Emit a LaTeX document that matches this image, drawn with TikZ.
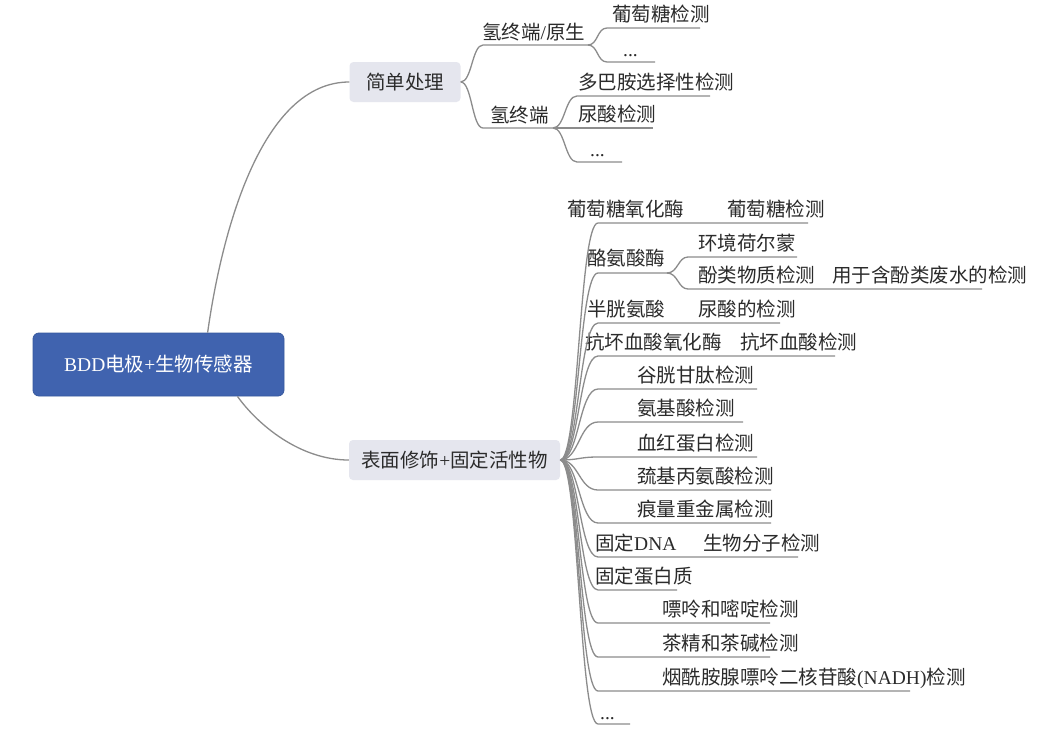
\documentclass[tikz,border=0pt]{standalone}
\usepackage{fontspec}
\setmainfont{Liberation Serif}
\newfontfamily\cjk{Noto Sans CJK SC}
\definecolor{rootc}{HTML}{4063AF}
\definecolor{rootb}{HTML}{37589E}
\definecolor{boxc}{HTML}{E5E6EE}
\definecolor{linec}{HTML}{8C8C8C}
\definecolor{txtc}{HTML}{2B2B2B}
\newcommand\lat[1]{{\rmfamily #1}}
\begin{document}
\begin{tikzpicture}[x=1pt,y=-1pt,
  conn/.style={draw=linec,line width=1.3pt},
  txt/.style={inner sep=0pt,anchor=base west,text=txtc,font=\fontsize{19.5}{22}\selectfont\cjk},
  topic/.style={rounded corners=4pt,fill=boxc,minimum height=40pt,inner sep=0pt,text=txtc,font=\fontsize{19.5}{22}\selectfont\cjk},
  rootbox/.style={rounded corners=6pt,fill=rootc,draw=rootb,line width=0.8pt,minimum width=251pt,minimum height=63pt,inner sep=0pt,text=white,font=\fontsize{19.5}{22}\selectfont\cjk}]
\useasboundingbox (0,0) rectangle (1050,736);
\fill[white] (0,0) rectangle (1050,736);

% root and main topics
\node[rootbox] (r) at (158.5,364.5) {\lat{BDD}电极\lat{+}生物传感器};
\node[topic,minimum width=111pt] (b1) at (405,82) {简单处理};
\node[topic,minimum width=211pt] (b2) at (454.5,460) {表面修饰\lat{+}固定活性物};

\draw[conn] (r.33) .. controls (222,230) and (262,82) .. (b1.west);
\draw[conn] (r.-22) .. controls (258,425) and (300,460) .. (b2.west);

% ---------- branch 1 ----------
\node[txt] (h1) at (482,39) {氢终端\lat{/}原生};
\node[txt] (h2) at (490,122.5) {氢终端};
\node[txt] (g1) at (612,21.5) {葡萄糖检测};
\node[txt] (d1) at (623,56) {\lat{...}};
\node[txt] (m1) at (578,89.5) {多巴胺选择性检测};
\node[txt] (u1) at (578,121.5) {尿酸检测};
\node[txt] (d2) at (590,156) {\lat{...}};

\coordinate (h1s) at (483,45);  \coordinate (h1e) at (588,45);
\coordinate (h2s) at (483,128); \coordinate (h2e) at (553,128);
\coordinate (g1s) at (607,28);  \coordinate (g1e) at (700,28);
\coordinate (d1s) at (607,62);  \coordinate (d1e) at (655,62);
\coordinate (m1s) at (577,96);  \coordinate (m1e) at (710,96);
\coordinate (u1e) at (653,128);
\coordinate (d2s) at (577,162); \coordinate (d2e) at (622,162);

\draw[conn] (b1.east) .. controls (472,82) and (472,45) .. (h1s) -- (h1e);
\draw[conn] (b1.east) .. controls (472,82) and (472,128) .. (h2s) -- (h2e);
\draw[conn] (h1e) .. controls (598,45) and (597,28) .. (g1s) -- (g1e);
\draw[conn] (h1e) .. controls (598,45) and (597,62) .. (d1s) -- (d1e);
\draw[conn] (h2e) .. controls (565,128) and (565,96) .. (m1s) -- (m1e);
\draw[conn] (h2e) -- (u1e);
\draw[conn] (h2e) .. controls (565,128) and (565,162) .. (d2s) -- (d2e);

% ---------- branch 2 ----------
\node[txt] (a1) at (567,216.5) {葡萄糖氧化酶};
\node[txt] (a1b) at (727,216.5) {葡萄糖检测};
\node[txt] (a2) at (587,265) {酪氨酸酶};
\node[txt] (a2x) at (698,250.5) {环境荷尔蒙};
\node[txt] (a2y) at (698,282.5) {酚类物质检测};
\node[txt] (a2z) at (832,282.5) {用于含酚类废水的检测};
\node[txt] (a3) at (587,316.5) {半胱氨酸};
\node[txt] (a3b) at (698,316.5) {尿酸的检测};
\node[txt] (a4) at (585,349.5) {抗坏血酸氧化酶};
\node[txt] (a4b) at (740,349.5) {抗坏血酸检测};
\node[txt] (a5) at (637,382.5) {谷胱甘肽检测};
\node[txt] (a6) at (637,415.5) {氨基酸检测};
\node[txt] (a7) at (637,450.5) {血红蛋白检测};
\node[txt] (a8) at (637,483.5) {巯基丙氨酸检测};
\node[txt] (a9) at (637,516.5) {痕量重金属检测};
\node[txt] (a10) at (595,550.5) {固定\lat{DNA}};
\node[txt] (a10b) at (703,550.5) {生物分子检测};
\node[txt] (a11) at (595,583.5) {固定蛋白质};
\node[txt] (a12) at (662,616.5) {嘌呤和嘧啶检测};
\node[txt] (a13) at (662,650.5) {茶精和茶碱检测};
\node[txt] (a14) at (662,684.5) {烟酰胺腺嘌呤二核苷酸\lat{(NADH)}检测};
\node[txt] (a15) at (600,719) {\lat{...}};

\coordinate (a1s) at (598,223);  \coordinate (a1e) at (808,223);
\coordinate (a2s) at (598,273);  \coordinate (a2e) at (667,273);
\coordinate (a2xs) at (688,257); \coordinate (a2xe) at (797,257);
\coordinate (a2ys) at (688,289); \coordinate (a2ye) at (982,289);
\coordinate (a3s) at (598,323);  \coordinate (a3e) at (780,323);
\coordinate (a4s) at (598,356);  \coordinate (a4e) at (835,356);
\coordinate (a5s) at (598,389);  \coordinate (a5e) at (757,389);
\coordinate (a6s) at (598,422);  \coordinate (a6e) at (743,422);
\coordinate (a7s) at (598,457);  \coordinate (a7e) at (757,457);
\coordinate (a8s) at (598,490);  \coordinate (a8e) at (771,490);
\coordinate (a9s) at (598,523);  \coordinate (a9e) at (771,523);
\coordinate (a10s) at (598,557); \coordinate (a10e) at (798,557);
\coordinate (a11s) at (598,590); \coordinate (a11e) at (677,590);
\coordinate (a12s) at (598,623); \coordinate (a12e) at (770,623);
\coordinate (a13s) at (598,657); \coordinate (a13e) at (770,657);
\coordinate (a14s) at (598,691); \coordinate (a14e) at (910,691);
\coordinate (a15s) at (598,724); \coordinate (a15e) at (630,724);

\draw[conn] (b2.east) .. controls (579,460) and (579,223) .. (a1s) -- (a1e);
\draw[conn] (b2.east) .. controls (579,460) and (579,273) .. (a2s) -- (a2e);
\draw[conn] (a2e) .. controls (678,273) and (678,257) .. (a2xs) -- (a2xe);
\draw[conn] (a2e) .. controls (678,273) and (678,289) .. (a2ys) -- (a2ye);
\draw[conn] (b2.east) .. controls (579,460) and (579,323) .. (a3s) -- (a3e);
\draw[conn] (b2.east) .. controls (579,460) and (579,356) .. (a4s) -- (a4e);
\draw[conn] (b2.east) .. controls (579,460) and (579,389) .. (a5s) -- (a5e);
\draw[conn] (b2.east) .. controls (579,460) and (579,422) .. (a6s) -- (a6e);
\draw[conn] (b2.east) .. controls (579,460) and (579,457) .. (a7s) -- (a7e);
\draw[conn] (b2.east) .. controls (579,460) and (579,490) .. (a8s) -- (a8e);
\draw[conn] (b2.east) .. controls (579,460) and (579,523) .. (a9s) -- (a9e);
\draw[conn] (b2.east) .. controls (579,460) and (579,557) .. (a10s) -- (a10e);
\draw[conn] (b2.east) .. controls (579,460) and (579,590) .. (a11s) -- (a11e);
\draw[conn] (b2.east) .. controls (579,460) and (579,623) .. (a12s) -- (a12e);
\draw[conn] (b2.east) .. controls (579,460) and (579,657) .. (a13s) -- (a13e);
\draw[conn] (b2.east) .. controls (579,460) and (579,691) .. (a14s) -- (a14e);
\draw[conn] (b2.east) .. controls (579,460) and (579,724) .. (a15s) -- (a15e);
\end{tikzpicture}
\end{document}
